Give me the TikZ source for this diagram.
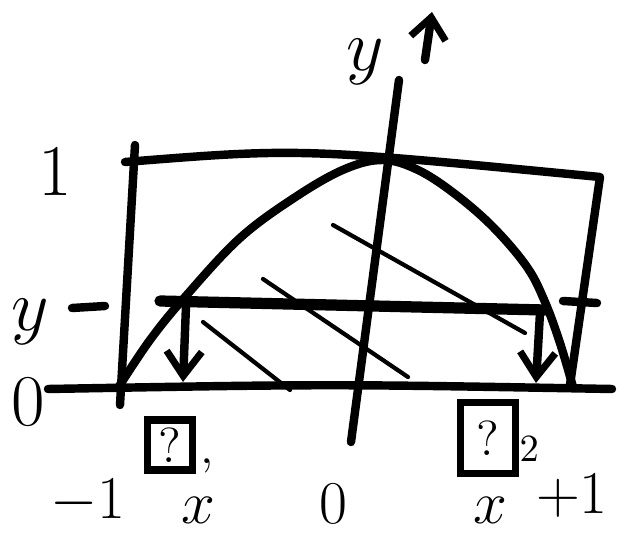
\documentclass[tikz,border=0pt]{standalone}
\usepackage{tikz}
\usetikzlibrary{arrows.meta, positioning}

\begin{document}
\begin{tikzpicture}[
  x=0.01cm, y=-0.01cm,
  stroke/.style={line width=2.4pt, line cap=round, line join=round},
  level/.style={line width=3.2pt, line cap=round},
  hatch/.style={line width=1.2pt, line cap=round},
  drop/.style={stroke, -{Straight Barb[length=7pt, width=10pt, line width=2pt]}},
  tag/.style={font=\fontsize{22}{26}\selectfont, inner sep=0pt},
  small/.style={font=\fontsize{18}{22}\selectfont, inner sep=0pt},
  qbox/.style={draw, line width=2pt, minimum width=0.45cm, minimum height=0.5cm,
    inner sep=1pt, font=\fontsize{14}{16}\selectfont}
]
\useasboundingbox (0,0) rectangle (620,533);
\clip (0,0) rectangle (620,533);

% Frame round the curve
\draw[stroke] (120,405) -- (135,145);
\draw[stroke] (125,162) .. controls (300,148) .. (600,177) -- (570,385);

% Axes
\draw[stroke] (48,389) .. controls (330,384) .. (612,389);
\draw[stroke] (399,80) -- (351,442);
\node[tag] (ylab) at (365,62) {$y$};
\coordinate (tipfoot) at (425,60);
\coordinate (tiphead) at (432,12);
\draw[stroke, -{Straight Barb[length=6pt, width=10pt, line width=2pt]}] (tipfoot) -- (tiphead);

% The curve
\draw[stroke] plot[smooth, tension=0.6] coordinates {
  (118,388) (150,340) (185,297) (240,238) (297,196) (345,169) (383,160)
  (418,170) (455,194) (493,227) (527,267) (545,302) (560,343) (573,387)};

% Level y and the two points below it
\coordinate (lvlL) at (160,301);
\coordinate (lvlR) at (545,310);
\draw[level] (lvlL) -- (lvlR);
\draw[stroke] (563,301) -- (597,303);
\coordinate (dropL) at (186,306);
\coordinate (footL) at (183,382);
\coordinate (dropR) at (540,313);
\coordinate (footR) at (536,383);
\draw[drop] (dropL) -- (footL);
\draw[drop] (dropR) -- (footR);

% Hatching
\draw[hatch] (333,225) -- (525,333);
\draw[hatch] (263,279) -- (408,377);
\draw[hatch] (203,322) -- (290,390);

% Left labels
\node[tag] (one) at (55,172) {$1$};
\node[tag] (ylvl) at (30,322) {$y$};
\draw[stroke] (72,308) -- (105,306);
\node[tag] (zero) at (28,402) {$0$};

% Unknown points
\node[qbox] (q1) at (170,445) {?};
\node[tag, font=\fontsize{14}{16}\selectfont, anchor=south west, xshift=1pt] (s1) at (q1.south east) {,};
\node[qbox, minimum width=0.55cm, minimum height=0.7cm] (q2) at (488,438) {?};
\node[tag, font=\fontsize{11}{13}\selectfont, anchor=south west, yshift=4pt] (s2) at (q2.south east) {$2$};

% Bottom row
\node[small, anchor=south] (m1) at (88,524) {$-1$};
\node[small, anchor=south] (xa) at (198,524) {$x$};
\node[small, anchor=south] (z0) at (333,524) {$0$};
\node[small, anchor=south] (xb) at (490,524) {$x$};
\node[small, anchor=south] (p1) at (572,518) {$+1$};
\end{tikzpicture}
\end{document}
